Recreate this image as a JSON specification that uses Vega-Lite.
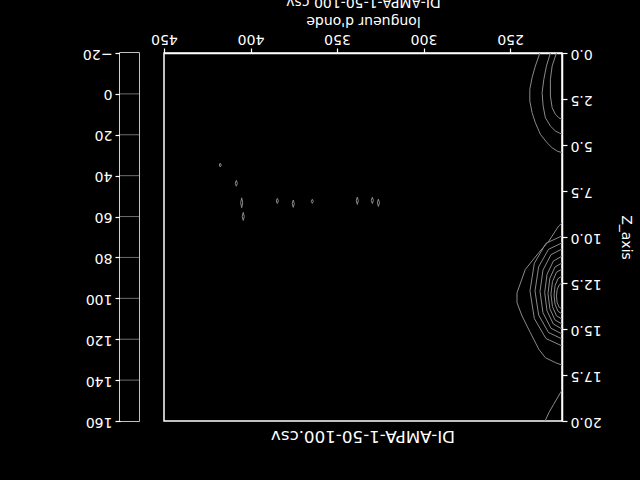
{
  "$schema": "https://vega.github.io/schema/vega-lite/v6.json",
  "background": "black",
  "padding": {"left": 81, "top": -7, "right": 12, "bottom": 45},
  "spacing": 25,
  "bounds": "flush",
  "config": {
    "font": "DejaVu Sans",
    "view": {"stroke": "white", "strokeWidth": 1.5},
    "axis": {
      "domainColor": "white", "tickColor": "white", "labelColor": "white", "titleColor": "white",
      "grid": false, "labelFontSize": 14, "titleFontSize": 14, "titleFontWeight": "normal",
      "tickSize": 5, "labelPadding": 3, "domainWidth": 1.5, "tickWidth": 1.2
    }
  },
  "hconcat": [
    {
      "width": 19,
      "height": 368,
      "layer": [
        {
          "data": {"values": [{"v": -20, "v2": 160}]},
          "mark": {"type": "rect", "fill": "black"},
          "encoding": {
            "y": {"field": "v", "type": "quantitative",
              "scale": {"domain": [-20, 160], "reverse": true, "nice": false, "zero": false},
              "axis": {"orient": "left", "values": [-20, 0, 20, 40, 60, 80, 100, 120, 140, 160], "labelAngle": 180, "labelAlign": "left", "labelBaseline": "middle", "title": null}},
            "y2": {"field": "v2"}
          }
        },
        {
          "data": {"values": [{"v": 0}, {"v": 20}, {"v": 40}, {"v": 60}, {"v": 80}, {"v": 100}, {"v": 120}, {"v": 140}]},
          "mark": {"type": "rule", "stroke": "#6e6e6e", "strokeWidth": 1},
          "encoding": {
            "y": {"field": "v", "type": "quantitative",
              "axis": {"orient": "left", "values": [-20, 0, 20, 40, 60, 80, 100, 120, 140, 160], "labelAngle": 180, "labelAlign": "left", "labelBaseline": "middle", "title": null}}
          }
        }
      ]
    },
    {
      "width": 398,
      "height": 368,
      "title": {"text": "DI-AMPA-1-50-100.csv", "orient": "bottom", "angle": 180, "baseline": "bottom", "fontSize": 16.7, "fontWeight": "normal", "color": "white", "offset": -1},
      "data": {"values": [
        {"c": "A", "o": 0, "w": 232.8, "z": 0}, {"c": "A", "o": 1, "w": 235.4, "z": 0.71}, {"c": "A", "o": 2, "w": 237.3, "z": 1.34}, {"c": "A", "o": 3, "w": 238.6, "z": 1.97}, {"c": "A", "o": 4, "w": 238.6, "z": 2.61}, {"c": "A", "o": 5, "w": 237.3, "z": 3.24}, {"c": "A", "o": 6, "w": 235.4, "z": 3.79}, {"c": "A", "o": 7, "w": 232.5, "z": 4.42}, {"c": "A", "o": 8, "w": 228.6, "z": 4.88}, {"c": "A", "o": 9, "w": 225.7, "z": 5.15}, {"c": "A", "o": 10, "w": 222.8, "z": 5.33}, {"c": "A", "o": 11, "w": 220, "z": 5.42},
        {"c": "B", "o": 0, "w": 226.7, "z": 0}, {"c": "B", "o": 1, "w": 229.0, "z": 0.71}, {"c": "B", "o": 2, "w": 230.5, "z": 1.43}, {"c": "B", "o": 3, "w": 231.5, "z": 2.16}, {"c": "B", "o": 4, "w": 230.9, "z": 2.88}, {"c": "B", "o": 5, "w": 229.6, "z": 3.52}, {"c": "B", "o": 6, "w": 226.7, "z": 3.97}, {"c": "B", "o": 7, "w": 223.8, "z": 4.24}, {"c": "B", "o": 8, "w": 221.3, "z": 4.36}, {"c": "B", "o": 9, "w": 220, "z": 4.4},
        {"c": "C", "o": 0, "w": 223.2, "z": 0}, {"c": "C", "o": 1, "w": 225.7, "z": 0.71}, {"c": "C", "o": 2, "w": 226.7, "z": 1.43}, {"c": "C", "o": 3, "w": 226.7, "z": 2.34}, {"c": "C", "o": 4, "w": 225.7, "z": 2.97}, {"c": "C", "o": 5, "w": 223.8, "z": 3.33}, {"c": "C", "o": 6, "w": 221.9, "z": 3.52}, {"c": "C", "o": 7, "w": 220, "z": 3.6},
        {"c": "M1", "o": 0, "w": 220, "z": 9.24}, {"c": "M1", "o": 1, "w": 221.9, "z": 9.4}, {"c": "M1", "o": 2, "w": 227.6, "z": 10.22}, {"c": "M1", "o": 3, "w": 233.4, "z": 10.85}, {"c": "M1", "o": 4, "w": 241.2, "z": 11.76}, {"c": "M1", "o": 5, "w": 246.0, "z": 13.03}, {"c": "M1", "o": 6, "w": 246.0, "z": 13.57}, {"c": "M1", "o": 7, "w": 243.1, "z": 14.29}, {"c": "M1", "o": 8, "w": 238.3, "z": 15.2}, {"c": "M1", "o": 9, "w": 233.4, "z": 16.1}, {"c": "M1", "o": 10, "w": 229.6, "z": 16.56}, {"c": "M1", "o": 11, "w": 223.8, "z": 16.83}, {"c": "M1", "o": 12, "w": 220, "z": 16.96},
        {"c": "M2", "o": 0, "w": 220, "z": 9.94}, {"c": "M2", "o": 1, "w": 229.25, "z": 10.34}, {"c": "M2", "o": 2, "w": 236.0, "z": 11.43}, {"c": "M2", "o": 3, "w": 238.5, "z": 12.93}, {"c": "M2", "o": 4, "w": 236.0, "z": 14.43}, {"c": "M2", "o": 5, "w": 229.25, "z": 15.52}, {"c": "M2", "o": 6, "w": 220, "z": 15.92},
        {"c": "M3", "o": 0, "w": 220, "z": 10.32}, {"c": "M3", "o": 1, "w": 227.8, "z": 10.67}, {"c": "M3", "o": 2, "w": 233.5, "z": 11.62}, {"c": "M3", "o": 3, "w": 235.6, "z": 12.93}, {"c": "M3", "o": 4, "w": 233.5, "z": 14.24}, {"c": "M3", "o": 5, "w": 227.8, "z": 15.19}, {"c": "M3", "o": 6, "w": 220, "z": 15.54},
        {"c": "M4", "o": 0, "w": 220, "z": 10.65}, {"c": "M4", "o": 1, "w": 226.35, "z": 10.96}, {"c": "M4", "o": 2, "w": 231.0, "z": 11.8}, {"c": "M4", "o": 3, "w": 232.7, "z": 12.96}, {"c": "M4", "o": 4, "w": 231.0, "z": 14.12}, {"c": "M4", "o": 5, "w": 226.35, "z": 14.96}, {"c": "M4", "o": 6, "w": 220, "z": 15.27},
        {"c": "M5", "o": 0, "w": 220, "z": 11.04}, {"c": "M5", "o": 1, "w": 225.0, "z": 11.31}, {"c": "M5", "o": 2, "w": 228.66, "z": 12.03}, {"c": "M5", "o": 3, "w": 230.0, "z": 13.02}, {"c": "M5", "o": 4, "w": 228.66, "z": 14.01}, {"c": "M5", "o": 5, "w": 225.0, "z": 14.73}, {"c": "M5", "o": 6, "w": 220, "z": 15.0},
        {"c": "M6", "o": 0, "w": 220, "z": 11.41}, {"c": "M6", "o": 1, "w": 224.05, "z": 11.63}, {"c": "M6", "o": 2, "w": 227.0, "z": 12.24}, {"c": "M6", "o": 3, "w": 228.1, "z": 13.07}, {"c": "M6", "o": 4, "w": 227.0, "z": 13.9}, {"c": "M6", "o": 5, "w": 224.05, "z": 14.51}, {"c": "M6", "o": 6, "w": 220, "z": 14.73},
        {"c": "M7", "o": 0, "w": 220, "z": 11.74}, {"c": "M7", "o": 1, "w": 223.2, "z": 11.92}, {"c": "M7", "o": 2, "w": 225.5, "z": 12.42}, {"c": "M7", "o": 3, "w": 226.4, "z": 13.1}, {"c": "M7", "o": 4, "w": 225.5, "z": 13.78}, {"c": "M7", "o": 5, "w": 223.2, "z": 14.28}, {"c": "M7", "o": 6, "w": 220, "z": 14.46},
        {"c": "M8", "o": 0, "w": 220, "z": 12.12}, {"c": "M8", "o": 1, "w": 222.3, "z": 12.26}, {"c": "M8", "o": 2, "w": 224.0, "z": 12.64}, {"c": "M8", "o": 3, "w": 224.6, "z": 13.15}, {"c": "M8", "o": 4, "w": 224.0, "z": 13.66}, {"c": "M8", "o": 5, "w": 222.3, "z": 14.04}, {"c": "M8", "o": 6, "w": 220, "z": 14.18},
        {"c": "M9", "o": 0, "w": 220, "z": 12.5}, {"c": "M9", "o": 1, "w": 221.6, "z": 12.6}, {"c": "M9", "o": 2, "w": 222.8, "z": 12.86}, {"c": "M9", "o": 3, "w": 223.2, "z": 13.21}, {"c": "M9", "o": 4, "w": 222.8, "z": 13.57}, {"c": "M9", "o": 5, "w": 221.6, "z": 13.82}, {"c": "M9", "o": 6, "w": 220, "z": 13.92},
        {"c": "L", "o": 0, "w": 220, "z": 18.32}, {"c": "L", "o": 1, "w": 220.9, "z": 18.46}, {"c": "L", "o": 2, "w": 224.8, "z": 19.09}, {"c": "L", "o": 3, "w": 227.6, "z": 19.55}, {"c": "L", "o": 4, "w": 229.8, "z": 20},
        {"c": "b1", "o": 0, "w": 417.5, "z": 5.99}, {"c": "b1", "o": 1, "w": 418.1, "z": 6.09}, {"c": "b1", "o": 2, "w": 417.5, "z": 6.19}, {"c": "b1", "o": 3, "w": 416.9, "z": 6.09}, {"c": "b1", "o": 4, "w": 417.5, "z": 5.99},
        {"c": "b2", "o": 0, "w": 408.2, "z": 6.92}, {"c": "b2", "o": 1, "w": 408.8, "z": 7.08}, {"c": "b2", "o": 2, "w": 408.2, "z": 7.24}, {"c": "b2", "o": 3, "w": 407.6, "z": 7.08}, {"c": "b2", "o": 4, "w": 408.2, "z": 6.92},
        {"c": "b3", "o": 0, "w": 405.1, "z": 7.87}, {"c": "b3", "o": 1, "w": 405.7, "z": 8.14}, {"c": "b3", "o": 2, "w": 405.1, "z": 8.41}, {"c": "b3", "o": 3, "w": 404.5, "z": 8.14}, {"c": "b3", "o": 4, "w": 405.1, "z": 7.87},
        {"c": "b4", "o": 0, "w": 404.2, "z": 8.66}, {"c": "b4", "o": 1, "w": 404.8, "z": 8.88}, {"c": "b4", "o": 2, "w": 404.2, "z": 9.1}, {"c": "b4", "o": 3, "w": 403.6, "z": 8.88}, {"c": "b4", "o": 4, "w": 404.2, "z": 8.66},
        {"c": "b5", "o": 0, "w": 384.5, "z": 7.9}, {"c": "b5", "o": 1, "w": 385.1, "z": 8.04}, {"c": "b5", "o": 2, "w": 384.5, "z": 8.18}, {"c": "b5", "o": 3, "w": 383.9, "z": 8.04}, {"c": "b5", "o": 4, "w": 384.5, "z": 7.9},
        {"c": "b6", "o": 0, "w": 375.3, "z": 7.99}, {"c": "b6", "o": 1, "w": 375.9, "z": 8.19}, {"c": "b6", "o": 2, "w": 375.3, "z": 8.39}, {"c": "b6", "o": 3, "w": 374.7, "z": 8.19}, {"c": "b6", "o": 4, "w": 375.3, "z": 7.99},
        {"c": "b7", "o": 0, "w": 364.3, "z": 7.95}, {"c": "b7", "o": 1, "w": 364.9, "z": 8.06}, {"c": "b7", "o": 2, "w": 364.3, "z": 8.17}, {"c": "b7", "o": 3, "w": 363.7, "z": 8.06}, {"c": "b7", "o": 4, "w": 364.3, "z": 7.95},
        {"c": "b8", "o": 0, "w": 338.3, "z": 7.83}, {"c": "b8", "o": 1, "w": 338.9, "z": 8.03}, {"c": "b8", "o": 2, "w": 338.3, "z": 8.23}, {"c": "b8", "o": 3, "w": 337.7, "z": 8.03}, {"c": "b8", "o": 4, "w": 338.3, "z": 7.83},
        {"c": "b9", "o": 0, "w": 329.6, "z": 7.84}, {"c": "b9", "o": 1, "w": 330.2, "z": 8.01}, {"c": "b9", "o": 2, "w": 329.6, "z": 8.18}, {"c": "b9", "o": 3, "w": 329.0, "z": 8.01}, {"c": "b9", "o": 4, "w": 329.6, "z": 7.84},
        {"c": "b10", "o": 0, "w": 326.1, "z": 7.94}, {"c": "b10", "o": 1, "w": 326.7, "z": 8.14}, {"c": "b10", "o": 2, "w": 326.1, "z": 8.34}, {"c": "b10", "o": 3, "w": 325.5, "z": 8.14}, {"c": "b10", "o": 4, "w": 326.1, "z": 7.94}
      ]},
      "mark": {"type": "line", "stroke": "#8a8a8a", "strokeWidth": 1, "clip": true},
      "encoding": {
        "x": {"field": "w", "type": "quantitative",
          "scale": {"domain": [220, 450], "reverse": true, "nice": false, "zero": false},
          "axis": {"orient": "top", "values": [250, 300, 350, 400, 450], "labelAngle": 180, "labelAlign": "center", "labelBaseline": "top",
            "title": ["longueur d'onde", "DI-AMPA-1-50-100.csv"], "titleAngle": 180, "titleBaseline": "top", "titlePadding": -15, "titleLineHeight": 19}},
        "y": {"field": "z", "type": "quantitative",
          "scale": {"domain": [0, 20], "reverse": true, "nice": false, "zero": false},
          "axis": {"orient": "right", "values": [0, 2.5, 5, 7.5, 10, 12.5, 15, 17.5, 20], "format": ".1f", "labelAngle": 180, "labelAlign": "right", "labelBaseline": "middle",
            "title": "Z_axis", "titlePadding": 17}},
        "detail": {"field": "c"},
        "order": {"field": "o"}
      }
    }
  ]
}
